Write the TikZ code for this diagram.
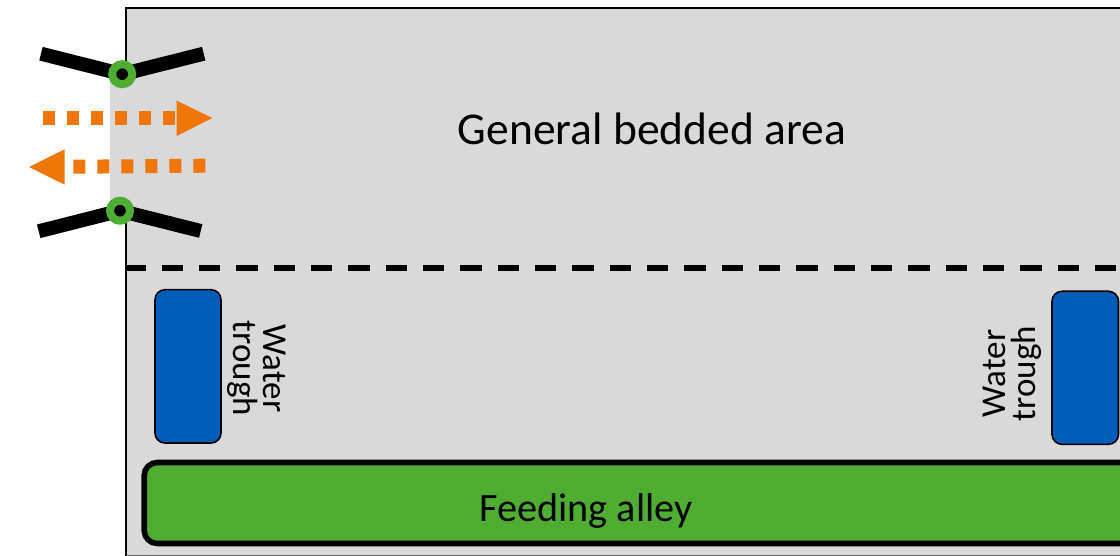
\documentclass[tikz,border=0pt]{standalone}
\usepackage{fontspec}
\setmainfont{Carlito}
\definecolor{bedgray}{HTML}{D9D9D9}
\definecolor{troughblue}{HTML}{005EB8}
\definecolor{alleygreen}{HTML}{4FAD32}
\definecolor{flow}{HTML}{F07605}
\tikzset{
  x=1pt,y=-1pt,
  gatebar/.style={line width=14pt},
  gatering/.style={circle,draw=alleygreen,line width=8pt,fill=black,minimum size=20pt,inner sep=0pt},
  flowline/.style={draw=flow,line width=14pt,dash pattern=on 12pt off 12pt},
  flowhead/.style={fill=flow},
  trough/.style={draw=black,line width=1.6pt,fill=troughblue,rounded corners=10pt},
  biglabel/.style={font=\fontsize{45.5}{45.5}\selectfont,text=black,inner sep=0pt},
  alleylabel/.style={font=\fontsize{40.2}{40.2}\selectfont,text=black,inner sep=0pt},
  smalllabel/.style={font=\fontsize{35}{30}\selectfont,text=black,inner sep=0pt,align=center}
}
\begin{document}
\begin{tikzpicture}
\useasboundingbox (0,0) rectangle (1120,556);
\clip (0,0) rectangle (1120,556);
% bedded area
\fill[bedgray] (126,7) rectangle (1122,555);
\fill[bedgray] (110,74) rectangle (126,211);
\draw[black,line width=2.6pt] (126,74) -- (126,8) -- (1122,8);
\draw[black,line width=2.6pt] (126,211) -- (126,556);
\draw[black!60,line width=1pt] (126,555.5) -- (1122,555.5);
% divider
\coordinate (divL) at (124.5,268);
\coordinate (divR) at (1122,268);
\draw[black,line width=5.6pt,dash pattern=on 21.33pt off 16pt] (divL) -- (divR);
% gates
\coordinate (g1L) at (41,53.7);
\coordinate (g1R) at (203.7,53.7);
\coordinate (g2L) at (38.7,231.3);
\coordinate (g2R) at (200.7,231);
\coordinate (g1c) at (122.2,74.2);
\coordinate (g2c) at (120,210.7);
\draw[gatebar] (g1L) -- (g1c) -- (g1R);
\draw[gatebar] (g2L) -- (g2c) -- (g2R);
\node[gatering] (g1) at (g1c) {};
\node[gatering] (g2) at (g2c) {};
% flow arrows
\coordinate (a1s) at (43,118);
\coordinate (a1e) at (176.7,118);
\coordinate (a1t) at (212.3,118);
\draw[flowline] (a1s) -- (a1e);
\fill[flowhead] (176.7,100.7) -- (a1t) -- (176.7,136) -- cycle;
\coordinate (a2s) at (205.3,165.7);
\coordinate (a2e) at (64.7,166.8);
\coordinate (a2t) at (29,167);
\draw[flowline] (a2s) -- (a2e);
\fill[flowhead] (64.7,149.3) -- (a2t) -- (64.7,184.7) -- cycle;
% troughs
\draw[trough] (155,289.7) rectangle (221,443);
\draw[trough] (1052,291.3) rectangle (1118.5,444.3);
% alley
\draw[black,line width=5.6pt,fill=alleygreen,rounded corners=13pt] (144.2,462.5) rectangle (1135,543.5);
% text
\node[biglabel] (gen) at (652,129) {General bedded area};
\node[alleylabel] (feed) at (586,511) {Feeding alley};
\node[smalllabel,rotate=-90] (w1) at (257,368.5) {Water\\trough};
\node[smalllabel,rotate=90] (w2) at (1012.5,373.5) {Water\\trough};
\end{tikzpicture}
\end{document}
